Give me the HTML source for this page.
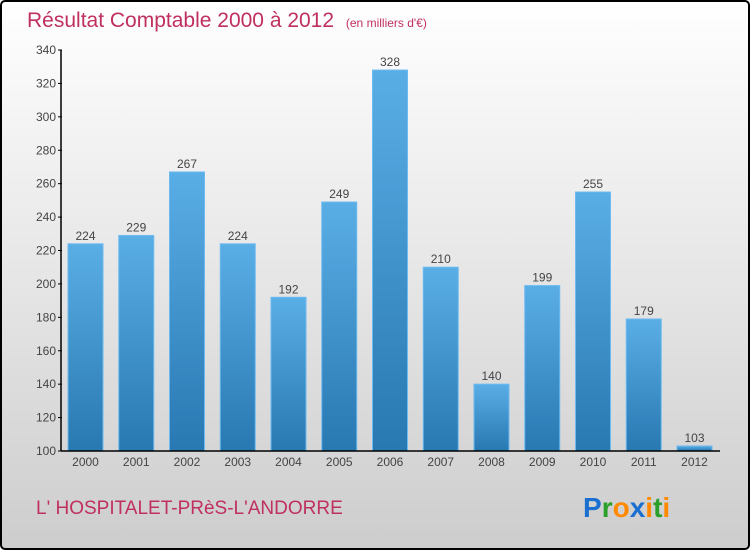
<!DOCTYPE html>
<html><head><meta charset="utf-8"><style>
body{margin:0;width:750px;height:550px;overflow:hidden;font-family:"Liberation Sans",sans-serif}
</style></head><body>
<svg width="750" height="550" xmlns="http://www.w3.org/2000/svg">
<defs>
<linearGradient id="bg" x1="0" y1="0" x2="0" y2="1"><stop offset="0" stop-color="#ffffff"/><stop offset="1" stop-color="#cdcdcd"/></linearGradient>
<linearGradient id="bar" x1="0" y1="0" x2="0" y2="1"><stop offset="0" stop-color="#5aaee6"/><stop offset="1" stop-color="#2878b2"/></linearGradient>
</defs>
<rect x="1" y="1" width="748" height="548" rx="4" fill="url(#bg)" stroke="#000" stroke-width="2"/>
<text x="27" y="27" font-size="21" fill="#c0305e">Résultat Comptable 2000 à 2012 <tspan font-size="12" dx="6">(en milliers d'€)</tspan></text>
<g id="plot"></g>
<text x="36" y="514" font-size="19" fill="#c0305e">L' HOSPITALET-PRèS-L'ANDORRE</text>
<text x="583" y="517" font-size="28" font-weight="bold"><tspan fill="#1a6fd0">P</tspan><tspan fill="#2aa02a">r</tspan><tspan fill="#ff8a00">o</tspan><tspan fill="#1a6fd0">x</tspan><tspan fill="#ff8a00">i</tspan><tspan fill="#2aa02a">t</tspan><tspan fill="#ff8a00">i</tspan></text>
</svg>
<script>
const years=["2000","2001","2002","2003","2004","2005","2006","2007","2008","2009","2010","2011","2012"];
const values=[224,229,267,224,192,249,328,210,140,199,255,179,103];
const yTicks=[100,120,140,160,180,200,220,240,260,280,300,320,340];
const ns="http://www.w3.org/2000/svg";
const g=document.getElementById("plot");
const yMin=100,yMax=340,y0=451,y1=50,xStart=68,step=50.75,bw=35;
const yS=v=>y0-(v-yMin)/(yMax-yMin)*(y0-y1);
function mk(t,a,txt){const e=document.createElementNS(ns,t);for(const k in a)e.setAttribute(k,a[k]);if(txt!=null)e.textContent=txt;g.appendChild(e);return e;}
values.forEach((v,i)=>{
 const x=xStart+i*step;
 const r=mk("rect",{x:x,y:yS(v),width:bw,height:y0-yS(v),fill:"url(#bar)",stroke:"#6cbaf0","stroke-width":1});
 
 
 const t=mk("text",{x:x+bw/2,y:yS(v)-4,"font-size":12,fill:"#444","text-anchor":"middle"},String(v));
 
 
 const xl=mk("text",{x:x+bw/2,y:y0+15,"font-size":12,fill:"#444","text-anchor":"middle"},years[i]);
 
 
});
yTicks.forEach(v=>{
 const y=yS(v);
 const l=mk("line",{x1:58,x2:62,y1:y,y2:y,stroke:"#000"});
 
 
 const t=mk("text",{x:56,y:y+4,"font-size":12,fill:"#444","text-anchor":"end"},String(v));
 
 
});
const ya=mk("line",{x1:61,x2:61,y1:y1,y2:y0,stroke:"#000","stroke-width":1.5});


const xa=mk("line",{x1:61,x2:720,y1:y0,y2:y0,stroke:"#000","stroke-width":1.5});


</script>
</body></html>
